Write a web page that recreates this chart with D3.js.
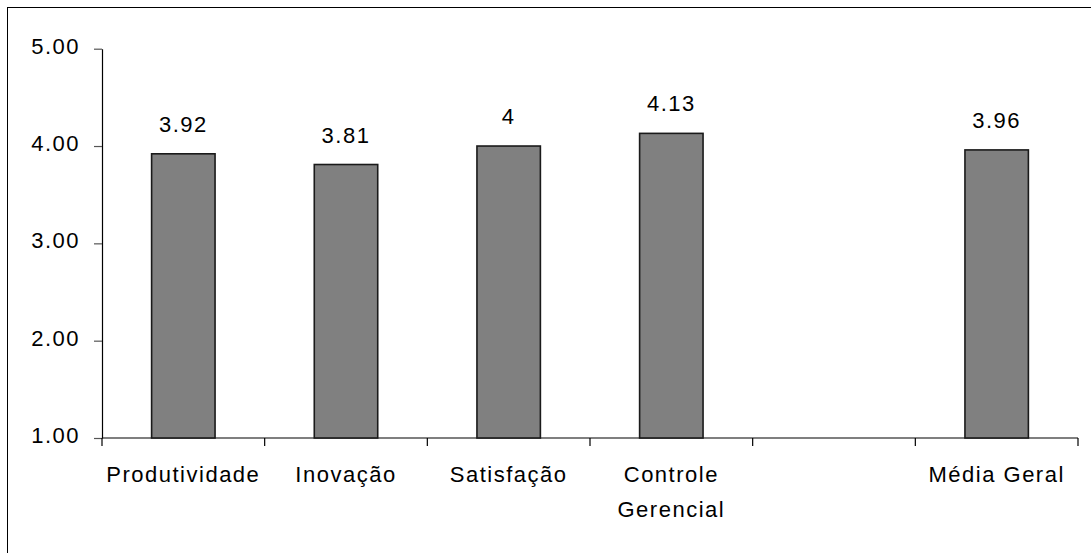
<!DOCTYPE html>
<html>
<head>
<meta charset="utf-8">
<script src="https://cdn.jsdelivr.net/npm/d3@7"></script>
<style>
  html, body { margin: 0; padding: 0; background: #fff; }
  svg { display: block; }
  text { font-family: "Liberation Sans", Arial, sans-serif; font-size: 22px; letter-spacing: 1.5px; fill: #000; }
</style>
</head>
<body>
<svg id="chart" width="1091" height="553"></svg>
<script>
// Average scores per dimension (one empty slot before the overall mean)
const categories = ["Produtividade", "Inovação", "Satisfação", "Controle Gerencial", "", "Média Geral"];
const categoryLines = [["Produtividade"], ["Inovação"], ["Satisfação"], ["Controle", "Gerencial"], [], ["Média Geral"]];
const values = [3.92, 3.81, 4, 4.13, null, 3.96];
const valueLabels = ["3.92", "3.81", "4", "4.13", "", "3.96"];
const yTicks = [1, 2, 3, 4, 5];

const svg = d3.select("#chart");
const W = 1091, H = 553;

// outer frame (runs past the right and bottom edges)
svg.append("rect")
  .attr("x", 7.5).attr("y", 7.5)
  .attr("width", W + 20).attr("height", H + 20)
  .attr("fill", "#fff").attr("stroke", "#000").attr("stroke-width", 1);

const x = d3.scaleBand().domain(d3.range(categories.length)).range([102, 1078]).padding(0);
const y = d3.scaleLinear().domain([1, 5]).range([438, 48.7]);

// Y axis
const yAxis = svg.append("g").attr("transform", "translate(102,0)")
  .call(d3.axisLeft(y).tickValues(yTicks).tickFormat(d3.format(".2f")).tickSize(8).tickPadding(14).tickSizeOuter(0));
yAxis.select(".domain").attr("stroke", "#000").attr("stroke-width", 1.2);
yAxis.selectAll(".tick line").attr("stroke", "#555").attr("stroke-width", 1.2);
yAxis.selectAll(".tick text")
  .attr("font-family", null).attr("font-size", null)
  .attr("dy", "0.2em").style("fill", "#000");
yAxis.attr("font-family", null).attr("font-size", null);

// X axis baseline and category boundary ticks
const bw = x.bandwidth();
svg.append("line")
  .attr("x1", x(0)).attr("x2", x(categories.length - 1) + bw)
  .attr("y1", y(1)).attr("y2", y(1))
  .attr("stroke", "#000").attr("stroke-width", 1.2);
svg.append("g").selectAll("line")
  .data(d3.range(categories.length + 1))
  .join("line")
  .attr("x1", i => (i < categories.length ? x(i) : x(i - 1) + bw))
  .attr("x2", i => (i < categories.length ? x(i) : x(i - 1) + bw))
  .attr("y1", y(1)).attr("y2", y(1) + 8)
  .attr("stroke", "#000").attr("stroke-width", 1.2);

// Category labels
const lbl = svg.append("g").selectAll("text")
  .data(categoryLines.map((lines, i) => ({ lines, i })))
  .join("text")
  .attr("text-anchor", "middle")
  .attr("x", d => x(d.i) + bw / 2)
  .attr("y", 481.7);
lbl.selectAll("tspan")
  .data(d => d.lines.map((t, k) => ({ t, k, cx: x(d.i) + bw / 2 })))
  .join("tspan")
  .attr("x", d => d.cx)
  .attr("dy", d => (d.k === 0 ? 0 : 35))
  .text(d => d.t);

// Bars
const barW = bw * 0.39;
const data = values.map((v, i) => ({ v, i, label: valueLabels[i] })).filter(d => d.v !== null);
svg.append("g").selectAll("rect")
  .data(data)
  .join("rect")
  .attr("x", d => x(d.i) + bw / 2 - barW / 2)
  .attr("y", d => y(d.v))
  .attr("width", barW)
  .attr("height", d => y(1) - y(d.v))
  .attr("fill", "#808080")
  .attr("stroke", "#1a1a1a")
  .attr("stroke-width", 1.6);

// Value labels above bars
svg.append("g").selectAll("text")
  .data(data)
  .join("text")
  .attr("text-anchor", "middle")
  .attr("x", d => x(d.i) + bw / 2)
  .attr("y", d => y(d.v) - 22)
  .text(d => d.label);
</script>
</body>
</html>
